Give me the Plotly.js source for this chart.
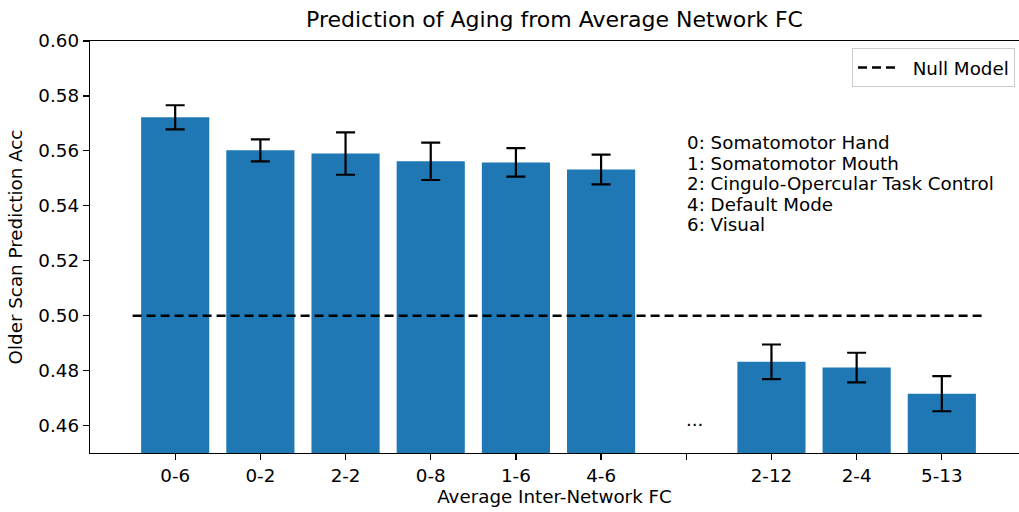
<!DOCTYPE html>
<html>
<head>
<meta charset="utf-8">
<script src="https://cdn.plot.ly/plotly-3.0.1.min.js"></script>
<style>html,body{margin:0;padding:0;background:#fff;}#chart{width:1019px;height:512px;}</style>
</head>
<body>
<div id="chart"></div>
<script>
const categories = ["0-6", "0-2", "2-2", "0-8", "1-6", "4-6", "", "2-12", "2-4", "5-13"];
const accuracy = [0.5722, 0.5602, 0.5590, 0.5562, 0.5558, 0.5532, null, 0.4832, 0.4811, 0.4716];
const errors = [0.0044, 0.0040, 0.0077, 0.0068, 0.0052, 0.0054, null, 0.0063, 0.0054, 0.0064];
const nullModel = 0.5;
const networkNotes = ["0: Somatomotor Hand", "1: Somatomotor Mouth", "2: Cingulo-Opercular Task Control", "4: Default Mode", "6: Visual"];
const yTicks = [0.46, 0.48, 0.50, 0.52, 0.54, 0.56, 0.58, 0.60];

const positions = categories.map((c, i) => i);
const font = {family: "DejaVu Sans", size: 18.3, color: "#000"};

const traces = [
  {
    type: "bar", x: positions, y: accuracy, width: 0.8,
    marker: {color: "#1f77b4"},
    error_y: {type: "data", array: errors, visible: true, color: "#000", thickness: 2.2, width: 9.5},
    showlegend: false, hoverinfo: "skip"
  },
  {
    type: "scatter", mode: "lines", x: [-0.5, categories.length - 0.5], y: [nullModel, nullModel],
    line: {color: "#000", dash: "9px,5px", width: 2.5}, name: "&nbsp;&nbsp;Null Model"
  }
];

const notesTop = 0.5629, notesStep = 0.00742;
const noteAnnotations = networkNotes.map((t, i) => ({
  x: 5.98, y: notesTop - i * notesStep, xref: "x", yref: "y", xanchor: "left", yanchor: "middle", align: "left",
  text: t, showarrow: false, font: font
}));

const layout = {
  width: 1019, height: 512,
  margin: {l: 90, r: 0, t: 41, b: 59},
  paper_bgcolor: "#fff", plot_bgcolor: "#fff",
  font: font,
  title: {text: "Prediction of Aging from Average Network FC", font: {family: "DejaVu Sans", size: 22, color: "#000"}, x: 0.5, xref: "paper", y: 0.962, yanchor: "middle"},
  xaxis: {
    range: [-1, 9.906], tickvals: positions, ticktext: categories,
    showgrid: false, zeroline: false, showline: true, linecolor: "#000", linewidth: 1.3, mirror: true,
    ticks: "outside", ticklen: 6, tickcolor: "#000", tickwidth: 1.2,
    tickfont: font,
    title: {text: "Average Inter-Network FC", font: font, standoff: 4}
  },
  yaxis: {
    range: [0.45, 0.60], tickvals: yTicks, tickformat: ".2f",
    showgrid: false, zeroline: false, showline: true, linecolor: "#000", linewidth: 1.3, mirror: false,
    ticks: "outside", ticklen: 6, tickcolor: "#000", tickwidth: 1.2,
    tickfont: font,
    title: {text: "Older Scan Prediction Acc", font: font, standoff: 11}
  },
  legend: {
    x: 0.9957, xanchor: "right", y: 0.983, yanchor: "top",
    bgcolor: "#fff", bordercolor: "#ccc", borderwidth: 1, font: font,
    itemwidth: 38
  },
  annotations: noteAnnotations.concat([
    {x: 6.1, y: 0.4576, xref: "x", yref: "y", xanchor: "center", yanchor: "bottom",
     text: "...", showarrow: false, font: font}
  ])
};

Plotly.newPlot("chart", traces, layout, {displayModeBar: false, staticPlot: true});
</script>
</body>
</html>
